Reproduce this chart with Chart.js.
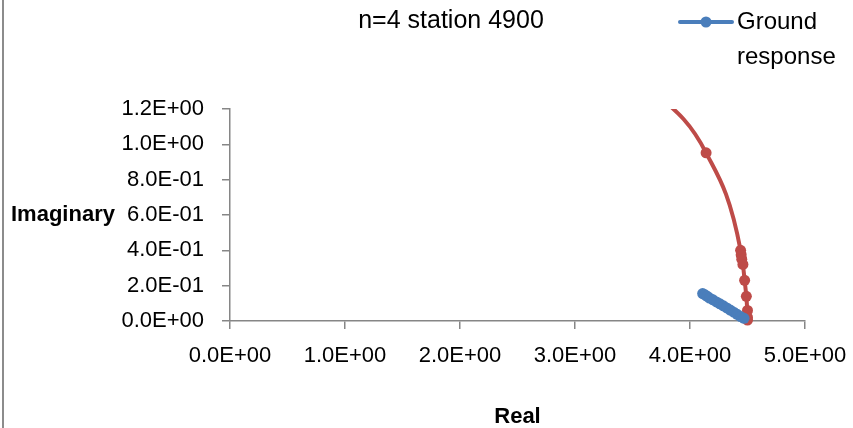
<!DOCTYPE html>
<html>
<head>
<meta charset="utf-8">
<script src="https://cdn.jsdelivr.net/npm/chart.js@4"></script>
<style>
body{margin:0;background:#fff;}
#wrap{position:relative;width:853px;height:428px;}
#edge{position:absolute;left:2px;top:0;width:2px;height:428px;background:#8c8c8c;}
</style>
</head>
<body>
<div id="wrap">
<div id="edge"></div>
<canvas id="chart" width="853" height="428"></canvas>
</div>
<script>
// ground response points (real, imaginary)
let groundReal = [4.11,4.13,4.15,4.17,4.20,4.23,4.26,4.29,4.32,4.35,4.38,4.41,4.44,4.47];
let groundImag = [0.155,0.148,0.140,0.130,0.120,0.108,0.097,0.086,0.074,0.062,0.050,0.038,0.025,0.015];

// second curve (no legend entry)
let curveReal = [3.55,4.14,4.44,4.445,4.45,4.46,4.475,4.49,4.50,4.50,4.50];
let curveImag = [1.38,0.952,0.400,0.375,0.350,0.320,0.230,0.140,0.060,0.020,0.005];

let xTicks = [0,1,2,3,4,5];
let yTicks = [0,0.2,0.4,0.6,0.8,1.0,1.2];

let font = "'Liberation Sans', Arial, sans-serif";
let axisGray = "#868686";

function toPoints(xs, ys){
let pts = [];
for(let i=0;i<xs.length;i++) pts.push({x:xs[i], y:ys[i]});
return pts;
}

function sci(v){
let s = v.toExponential(1).toUpperCase();
// 1.2E+0 -> 1.2E+00
return s.replace(/E([+-])(\d)$/, "E$10$2");
}

// title, axis names and legend drawn by hand
let extras = {
id:"extras",
afterDraw(chart){
let ctx = chart.ctx;
let area = chart.chartArea;
ctx.save();
ctx.fillStyle = "#000";
ctx.textBaseline = "middle";

ctx.font = "25px " + font;
ctx.textAlign = "center";
ctx.fillText("n=4 station 4900", 451, 21);

ctx.font = "bold 22px " + font;
ctx.textAlign = "left";
ctx.fillText("Imaginary", 11, 215);
ctx.textAlign = "center";
ctx.fillText("Real", (area.left + area.right)/2, 417);

// legend
let ds = chart.data.datasets[0];
ctx.strokeStyle = ds.borderColor;
ctx.lineWidth = 4;
ctx.lineCap = "round";
ctx.beginPath();
ctx.moveTo(680, 22);
ctx.lineTo(732, 22);
ctx.stroke();
ctx.fillStyle = ds.backgroundColor;
ctx.beginPath();
ctx.arc(706, 22, 5.5, 0, Math.PI*2);
ctx.fill();

ctx.fillStyle = "#000";
ctx.font = "24px " + font;
ctx.textAlign = "left";
ctx.fillText("Ground", 737, 22);
ctx.fillText("response", 737, 57);
ctx.restore();
}
};

new Chart(document.getElementById("chart"),{
type:"scatter",
data:{
datasets:[{
label:"Ground response",
data:toPoints(groundReal, groundImag),
borderColor:"#4a7ebb",
backgroundColor:"#4a7ebb",
showLine:true,
borderWidth:4,
pointRadius:5.5,
pointBorderWidth:0,
tension:0.3
},{
label:"",
data:toPoints(curveReal, curveImag),
borderColor:"#be4b48",
backgroundColor:"#be4b48",
showLine:true,
borderWidth:4,
pointBorderWidth:0,
pointRadius:[0,5.5,5.5,5.5,5.5,5.5,5.5,5.5,5.5,5.5,5.5],
cubicInterpolationMode:"monotone"
}]
},
plugins:[extras],
options:{
responsive:false,
animation:false,
clip:{left:0,top:0,right:20,bottom:20},
layout:{padding:{top:109,right:48,left:0,bottom:0}},
plugins:{
legend:{display:false},
tooltip:{enabled:false}
},
scales:{
x:{
type:"linear",
min:0,max:5,
afterBuildTicks(scale){ scale.ticks = xTicks.map(v => ({value:v})); },
afterFit(scale){
scale.height = 107;
scale.paddingLeft = 0;
scale.paddingRight = 0;
},
border:{color:axisGray, width:1.5},
grid:{drawOnChartArea:false, color:axisGray, tickLength:8, lineWidth:1.5},
ticks:{
padding:14,
color:"#000",
font:{family:font, size:22},
callback:v => sci(v)
}
},
y:{
type:"linear",
min:0,max:1.2,
afterBuildTicks(scale){ scale.ticks = yTicks.map(v => ({value:v})); },
afterFit(scale){
scale.width = 230;
scale.paddingTop = 0;
scale.paddingBottom = 0;
},
border:{color:axisGray, width:1.5},
grid:{drawOnChartArea:false, color:axisGray, tickLength:8, lineWidth:1.5},
ticks:{
padding:18,
color:"#000",
font:{family:font, size:22},
callback:v => sci(v)
}
}
}
}
});
</script>
</body>
</html>
